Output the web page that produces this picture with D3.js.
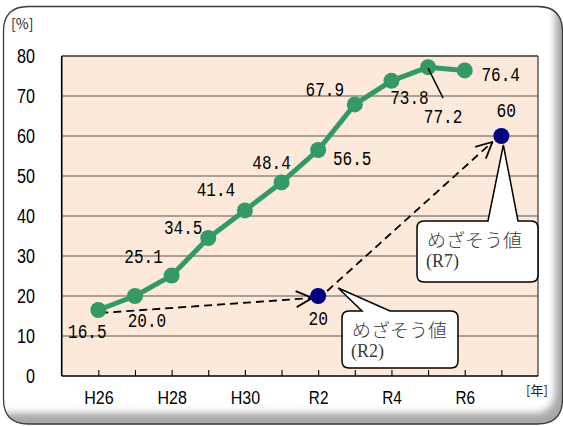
<!DOCTYPE html>
<html><head><meta charset="utf-8">
<script src="https://cdn.jsdelivr.net/npm/d3@7"></script>
<style>body{margin:0;background:#fff}svg{display:block}</style>
</head><body>
<svg id="c" width="563" height="426"></svg>
<script>
const categories = ["H26","H27","H28","H29","H30","R1","R2","R3","R4","R5","R6","R7"];
const actualValues = [16.5,20.0,25.1,34.5,41.4,48.4,56.5,67.9,73.8,77.2,76.4,null];
const targetCategories = ["R2","R7"];
const targetValues = [20,60];
const yTicks = [0,10,20,30,40,50,60,70,80];
const xTickLabels = ["H26","H28","H30","R2","R4","R6"];
const calloutLines = [["めざそう値","(R2)"],["めざそう値","(R7)"]];

// ---- layout / style (not data) ----
const plot = {l:61.7, r:538, t:56, b:376};
const actualLabelOffsets = [[-11,20],[12,23],[-28,-20],[-25,-12],[-29,-22],[-10,-21],[34,7],[-30,-16],[18,16],[15,48],[36,3]];
const targetLabelOffsets = [[0,21],[5,-27]];
const GREEN = "#339966", NAVY = "#000080", PEACH = "#FDE9D9";
const axisFont = "'Liberation Sans',Arial,sans-serif";

const svg = d3.select("#c");
const x = d3.scalePoint().domain(categories).range([plot.l, plot.r]).padding(1);
const y = d3.scaleLinear().domain([0, 80]).range([plot.b, plot.t]);

const defs = svg.append("defs");
const blur = defs.append("filter").attr("id","blur").attr("x","-10%").attr("y","-10%").attr("width","120%").attr("height","120%");
blur.append("feGaussianBlur").attr("stdDeviation", 3.5);
const rr = (x0,y0,x1,y1,r) => `M${x0+r},${y0}L${x1-r},${y0}Q${x1},${y0} ${x1},${y0+r}L${x1},${y1-r}Q${x1},${y1} ${x1-r},${y1}L${x0+r},${y1}Q${x0},${y1} ${x0},${y1-r}L${x0},${y0+r}Q${x0},${y0} ${x0+r},${y0}Z`;
const outer = rr(3.5, 6.5, 562.5, 424, 25);
defs.append("clipPath").attr("id","fclip").append("path").attr("d", outer);
const mk = defs.append("marker").attr("id","arr").attr("viewBox","0 0 18 18")
  .attr("refX",17).attr("refY",9).attr("markerWidth",18).attr("markerHeight",18)
  .attr("markerUnits","userSpaceOnUse").attr("orient","auto");
mk.append("path").attr("d","M1,1L17,9L1,17").attr("fill","none").attr("stroke","#000").attr("stroke-width",1.8);

// frame
svg.append("path").attr("d", outer).attr("fill","#a8a8a8");
svg.append("g").attr("clip-path","url(#fclip)")
  .append("path").attr("d", rr(-30, -30, 555, 413, 22)).attr("fill","#fff").attr("filter","url(#blur)");
svg.append("path").attr("d", outer).attr("fill","none").attr("stroke","#3a3a3a").attr("stroke-width",1.3);

// plot background
svg.append("rect").attr("x",plot.l).attr("y",plot.t).attr("width",plot.r-plot.l).attr("height",plot.b-plot.t).attr("fill",PEACH);

// gridlines
svg.append("g").selectAll("line").data(yTicks.filter(v=>v>0)).join("line")
  .attr("x1",plot.l).attr("x2",plot.r).attr("y1",d=>y(d)).attr("y2",d=>y(d))
  .attr("stroke",d=>d===80?"#333":"#595959").attr("stroke-width",d=>d===80?1.4:1.1);
svg.append("line").attr("x1",plot.r).attr("x2",plot.r).attr("y1",plot.t).attr("y2",plot.b).attr("stroke","#333").attr("stroke-width",1.2);

// y axis labels
svg.append("g").selectAll("text").data(yTicks).join("text")
  .attr("x",35).attr("y",d=>y(d)+7).attr("text-anchor","end")
  .attr("font-family",axisFont).attr("font-size",19.5).attr("fill","#000")
  .attr("textLength",d=>String(d).length*9).attr("lengthAdjust","spacingAndGlyphs")
  .text(d=>d);
svg.append("line").attr("x1",plot.l).attr("x2",plot.l).attr("y1",plot.t).attr("y2",plot.b).attr("stroke","#000").attr("stroke-width",1.6);

// x axis
const xAxis = d3.axisBottom(x).tickSize(-6).tickPadding(20)
  .tickFormat(d => xTickLabels.includes(d) ? d : "");
const gx = svg.append("g").attr("transform",`translate(0,${plot.b})`).call(xAxis);
gx.select(".domain").attr("d",`M${plot.l},0H${plot.r}`).attr("stroke","#000").attr("stroke-width",1.6);
gx.selectAll(".tick line").attr("stroke","#000").attr("stroke-width",1.1);
gx.selectAll(".tick text").attr("font-family",axisFont)
  .attr("font-size",17.5).attr("fill","#000").attr("dy",0).attr("y",28)
  .attr("textLength",d=>xTickLabels.includes(d)?d.length*9.8:0).attr("lengthAdjust","spacingAndGlyphs");

// unit labels
svg.append("text").attr("x",11).attr("y",29).attr("font-family","'Noto Sans CJK JP',sans-serif").attr("font-size",14).attr("fill","#222").text("[%]");
svg.append("text").attr("x",526).attr("y",395).attr("font-family","'Noto Sans CJK JP',sans-serif").attr("font-size",13).attr("fill","#222").text("[年]");

// dashed target arrows
const dashes = [
  [x(categories[0])+2, y(actualValues[0])+3, x(targetCategories[0])-6, y(targetValues[0])+2],
  [x(targetCategories[0])+9, y(targetValues[0])-5, x(targetCategories[1])-9, y(targetValues[1])+6]
];
svg.append("g").selectAll("line").data(dashes).join("line")
  .attr("x1",d=>d[0]).attr("y1",d=>d[1]).attr("x2",d=>d[2]).attr("y2",d=>d[3])
  .attr("stroke","#000").attr("stroke-width",1.8).attr("stroke-dasharray","8,5").attr("marker-end","url(#arr)");

// actual line
const actual = categories.map((c,i)=>({c, v:actualValues[i], i})).filter(d=>d.v!=null);
svg.append("path").datum(actual)
  .attr("d", d3.line().x(d=>x(d.c)).y(d=>y(d.v)))
  .attr("fill","none").attr("stroke",GREEN).attr("stroke-width",5).attr("stroke-linejoin","round");
svg.append("g").selectAll("circle").data(actual).join("circle")
  .attr("cx",d=>x(d.c)).attr("cy",d=>y(d.v)).attr("r",8).attr("fill",GREEN);

// target points
const targets = targetCategories.map((c,i)=>({c, v:targetValues[i], i}));
svg.append("g").selectAll("circle").data(targets).join("circle")
  .attr("cx",d=>x(d.c)).attr("cy",d=>y(d.v)).attr("r",8).attr("fill",NAVY);

// leader line for 77.2
const r5 = actual[9];
svg.append("line").attr("x1",x(r5.c)).attr("y1",y(r5.v)+1).attr("x2",x(r5.c)+actualLabelOffsets[9][0]).attr("y2",y(r5.v)+actualLabelOffsets[9][1]-17)
  .attr("stroke","#000").attr("stroke-width",1.5);

// data labels
const fmt = d3.format(".1f");
const labelFont = "'Liberation Mono','DejaVu Sans Mono',monospace";
svg.append("g").selectAll("text").data(actual).join("text")
  .attr("x",d=>x(d.c)+actualLabelOffsets[d.i][0]).attr("y",d=>y(d.v)+actualLabelOffsets[d.i][1]+7.5)
  .attr("text-anchor","middle").attr("font-family",labelFont).attr("font-size",21)
  .attr("textLength",38.5).attr("lengthAdjust","spacingAndGlyphs").attr("fill","#000")
  .text(d=>fmt(d.v));
svg.append("g").selectAll("text").data(targets).join("text")
  .attr("x",d=>x(d.c)+targetLabelOffsets[d.i][0]).attr("y",d=>y(d.v)+targetLabelOffsets[d.i][1]+7.5)
  .attr("text-anchor","middle").attr("font-family",labelFont).attr("font-size",21)
  .attr("textLength",19.5).attr("lengthAdjust","spacingAndGlyphs").attr("fill","#000")
  .text(d=>d.v);

// callouts
const callouts = [
  {box:[342,311,458,368], base:[362,390], tip:[x(targetCategories[0])+20, y(targetValues[0])-8]},
  {box:[417,221,538,282], base:[488,518], tip:[x(targetCategories[1])+2, y(targetValues[1])+9]}
];
callouts.forEach((c,k)=>{
  const [x0,y0,x1,y1] = c.box, r=7;
  const p = `M${x0+r},${y0}L${c.base[0]},${y0}L${c.tip[0]},${c.tip[1]}L${c.base[1]},${y0}L${x1-r},${y0}Q${x1},${y0} ${x1},${y0+r}L${x1},${y1-r}Q${x1},${y1} ${x1-r},${y1}L${x0+r},${y1}Q${x0},${y1} ${x0},${y1-r}L${x0},${y0+r}Q${x0},${y0} ${x0+r},${y0}Z`;
  svg.append("path").attr("d",p).attr("fill","#fff").attr("stroke","#000").attr("stroke-width",1.5).attr("stroke-linejoin","miter");
  svg.append("text").attr("x",x0+10).attr("y",y0+26).attr("font-family","'Noto Sans CJK JP',sans-serif")
    .attr("font-size",18).attr("font-weight",300).attr("fill","#3a3a3a")
    .attr("textLength",95).attr("lengthAdjust","spacingAndGlyphs").text(calloutLines[k][0]);
  svg.append("text").attr("x",x0+9).attr("y",y0+46).attr("font-family","'Liberation Serif','DejaVu Serif',serif")
    .attr("font-size",18.5).attr("fill","#3a3a3a")
    .attr("textLength",33).attr("lengthAdjust","spacingAndGlyphs").text(calloutLines[k][1]);
});
</script>
</body></html>
